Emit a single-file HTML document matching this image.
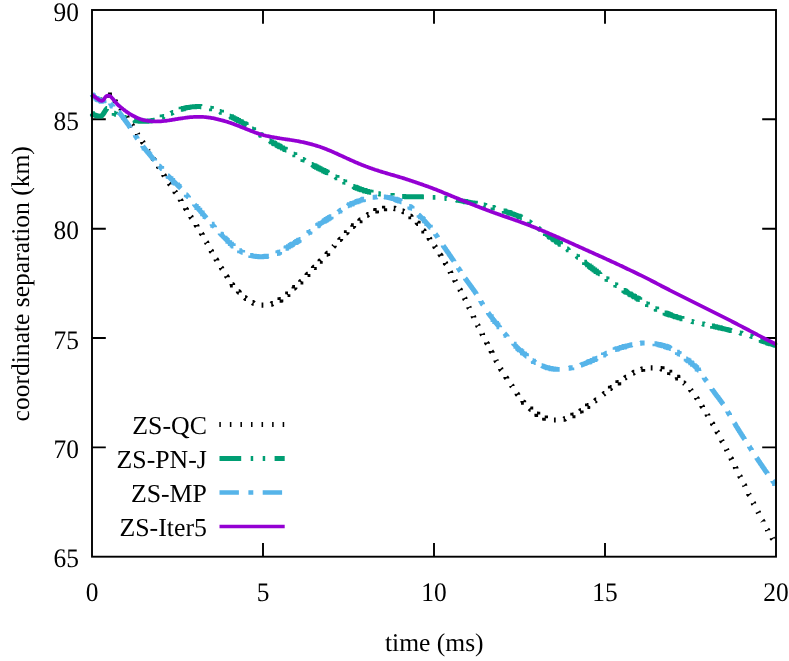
<!DOCTYPE html>
<html><head><meta charset="utf-8"><title>coordinate separation</title>
<style>html,body{margin:0;padding:0;background:#fff;}body{width:789px;height:661px;overflow:hidden;}svg{display:block;will-change:transform;}text{font-family:"Liberation Serif",serif;font-size:25.55px;fill:#000;text-rendering:geometricPrecision;}text.t{font-size:26.8px;}text.k{font-size:25.8px;}</style>
</head><body>
<svg width="789" height="661" viewBox="0 0 789 661">
<rect width="789" height="661" fill="#fff"/>
<g stroke="#000" stroke-width="1.9" fill="none" stroke-linecap="butt">
<path d="M263.0,556.7 V542.9 M263.0,10.0 V23.8"/>
<path d="M434.0,556.7 V542.9 M434.0,10.0 V23.8"/>
<path d="M605.0,556.7 V542.9 M605.0,10.0 V23.8"/>
<path d="M92.0,447.4 H105.8 M776.0,447.4 H762.2"/>
<path d="M92.0,338.0 H105.8 M776.0,338.0 H762.2"/>
<path d="M92.0,228.7 H105.8 M776.0,228.7 H762.2"/>
<path d="M92.0,119.3 H105.8 M776.0,119.3 H762.2"/>
</g>
<g text-anchor="end">
<text x="78.9" y="567.3" class="t" textLength="25.4" lengthAdjust="spacingAndGlyphs">65</text>
<text x="78.9" y="458.0" class="t" textLength="25.4" lengthAdjust="spacingAndGlyphs">70</text>
<text x="78.9" y="348.6" class="t" textLength="25.4" lengthAdjust="spacingAndGlyphs">75</text>
<text x="78.9" y="239.3" class="t" textLength="25.4" lengthAdjust="spacingAndGlyphs">80</text>
<text x="78.9" y="129.9" class="t" textLength="25.4" lengthAdjust="spacingAndGlyphs">85</text>
<text x="78.9" y="20.6" class="t" textLength="25.4" lengthAdjust="spacingAndGlyphs">90</text>
</g>
<g text-anchor="middle">
<text x="92.0" y="601.4" class="t" textLength="12.7" lengthAdjust="spacingAndGlyphs">0</text>
<text x="263.0" y="601.4" class="t" textLength="12.7" lengthAdjust="spacingAndGlyphs">5</text>
<text x="434.0" y="601.4" class="t" textLength="25.4" lengthAdjust="spacingAndGlyphs">10</text>
<text x="605.0" y="601.4" class="t" textLength="25.4" lengthAdjust="spacingAndGlyphs">15</text>
<text x="776.0" y="601.4" class="t" textLength="25.4" lengthAdjust="spacingAndGlyphs">20</text>
<text x="434.3" y="651.4">time (ms)</text>
<text transform="translate(29.3,283.8) rotate(-90)">coordinate separation (km)</text>
</g>
<g>
<g transform="scale(0.22)" fill="none" stroke-linejoin="miter" stroke-miterlimit="10">
<path d="M422 432l1 1 1 1 1 1 1 1 1 0 M457 455l1 0 1 0 1 1 1 0 1-1 1 0 1 0 M491 432l1 0 1 0 1 0 1 0 1 0 1 0 0 1 1 0 M523 458l1 1 0 1 1 1 1 1 1 1 M549 494l1 1 1 1 0 1 1 1 1 1 0 1 M575 530l0 1 1 1 1 1 0 1 1 1 1 1 M599 568l1 1 1 1 0 1 1 2 1 1 M624 607l1 2 0 1 1 1 1 1 M648 645l1 1 0 1 1 1 1 1 1 1 M673 683l0 1 1 1 1 1 1 1 M697 720l0 2 1 1 1 1 1 1 0 1 M721 758l0 1 1 1 1 1 1 2 0 1 M745 795l0 1 1 1 1 1 1 2 0 1 M769 833l1 1 1 1 1 1 0 1 1 1 1 1 M795 871l1 1 0 1 1 1 1 1 1 1 M820 908l0 1 1 1 1 1 1 2 0 1 M844 947l0 1 1 1 1 2 1 1 0 1 M867 985l1 1 0 1 1 2 1 1 1 1 M892 1023l0 1 1 2 1 1 1 1 0 1 M916 1061l0 1 1 1 1 2 1 1 0 1 M938 1100l1 1 1 2 0 1 1 1 M959 1139l1 1 1 1 0 2 1 1 1 1 M982 1178l1 1 0 1 1 1 1 1 0 2 M1005 1216l1 1 1 1 0 1 1 2 1 1 M1029 1254l1 1 1 1 0 1 1 1 1 1 0 1 M1055 1291l0 1 1 1 1 1 0 1 1 0 1 1 M1084 1325l0 1 1 1 1 0 1 1 0 1 1 1 M1113 1353l1 1 1 0 1 1 1 1 1 0 1 1 M1148 1376l1 0 1 1 1 0 1 1 1 0 1 1 M1189 1387l1 0 1 0 1 0 1 0 1 0 1 0 1 0 1 0 M1233 1382l1 0 1-1 1 0 1 0 1-1 1 0 1 0 M1271 1364l1 0 1 0 0-1 1 0 1-1 1 0 0-1 M1305 1340l1-1 1-1 1 0 0-1 1 0 1-1 M1337 1311l0-1 1-1 1 0 1-1 0-1 1 0 M1365 1282l1-1 1 0 0-1 1-1 1-1 1-1 M1396 1250l0-1 1-1 1-1 1 0 0-1 1-1 M1425 1218l0-1 1-1 1-1 1 0 0-1 M1454 1187l1 0 0-1 1-1 1-1 1-1 1-1 M1485 1155l1 0 1-1 0-1 1-1 1 0 0-1 1-1 M1515 1122l1-1 1-1 1-1 1-1 0-1 M1544 1091l1-1 0-1 1-1 1 0 1-1 0-1 M1574 1060l1-1 0-1 1 0 1-1 0-1 1-1 M1604 1031l0-1 1-1 1 0 1-1 0-1 1 0 1-1 M1635 1003l1 0 0-1 1-1 1 0 1-1 1-1 M1669 978l1 0 1-1 1 0 1-1 1-1 1 0 M1706 959l1 0 1 0 0-1 1 0 1 0 1 0 0-1 1 0 M1745 948l1 0 1 0 1 0 0-1 1 0 1 0 1 0 M1790 947l1 0 1 0 1 0 1 0 1 1 1 0 1 0 M1830 960l1 0 1 1 1 0 1 1 1 0 1 0 M1865 982l1 1 1 0 1 1 0 1 1 0 1 1 M1896 1011l1 1 0 1 1 1 1 1 1 0 0 1 M1924 1046l1 1 1 1 1 1 0 1 1 0 1 1 M1951 1082l0 2 1 1 1 1 0 1 1 1 M1976 1119l1 1 0 2 1 1 1 1 1 1 M2000 1156l1 1 0 1 1 1 1 2 1 1 0 1 M2024 1195l1 1 0 2 1 1 1 1 1 1 M2046 1234l1 2 0 1 1 1 1 2 0 1 M2068 1274l0 2 1 1 1 1 1 2 M2090 1315l1 1 1 1 0 2 1 1 M2111 1354l1 2 1 1 0 2 1 1 M2131 1395l1 2 0 2 1 1 M2151 1437l0 1 1 2 1 1 0 2 M2171 1478l1 1 0 2 1 1 M2191 1517l0 1 1 2 1 1 0 2 M2212 1557l0 1 1 1 1 2 1 1 0 1 M2233 1596l0 1 1 1 1 2 1 1 0 2 M2254 1637l1 2 0 1 1 2 1 1 M2275 1676l1 1 0 1 1 2 1 1 1 1 M2300 1714l0 1 1 1 1 2 1 1 0 1 M2325 1752l1 1 1 1 0 1 1 1 M2350 1789l1 1 0 1 1 1 1 1 0 1 1 1 M2377 1823l0 1 1 1 1 1 1 1 0 1 1 0 M2407 1856l1 1 1 1 1 1 1 1 1 0 0 1 M2441 1881l0 1 1 0 1 1 1 0 0 1 1 0 1 0 M2476 1899l0 1 1 0 1 0 1 0 0 1 1 0 1 0 1 1 M2518 1909l1 0 1 0 1 0 1 0 1 0 1 0 1 0 1 0 M2562 1905l1 0 1 0 1 0 1-1 1 0 1 0 1-1 M2601 1890l1-1 1 0 1 0 0-1 1 0 1-1 1 0 M2636 1870l1-1 1 0 1-1 1-1 1 0 0-1 M2670 1847l1 0 0-1 1 0 1-1 1-1 1 0 1-1 M2704 1823l1-1 1-1 1 0 1-1 1-1 1 0 M2742 1793l1-1 1-1 1-1 1-1 1 0 1-1 M2775 1766l0-1 1 0 1-1 1-1 1-1 1 0 M2807 1742l1-1 1 0 0-1 1 0 1-1 1 0 0-1 M2840 1719l1-1 1-1 1 0 1-1 1-1 1 0 M2877 1696l1-1 1 0 1-1 1 0 1-1 1 0 M2915 1679l1 0 1 0 1-1 1 0 1 0 1 0 0-1 M2958 1672l1 0 1 0 1 0 1 0 1 0 1 0 1 0 1 0 M3003 1676l1 0 1 0 1 1 1 0 1 0 1 0 0 1 M3043 1692l1 0 0 1 1 0 1 1 1 0 1 1 M3077 1714l1 1 1 0 0 1 1 1 1 0 0 1 1 0 M3108 1741l1 0 1 1 1 1 1 1 1 1 M3139 1772l1 1 0 1 1 1 1 1 1 1 M3166 1808l1 1 0 1 1 1 1 1 0 1 M3191 1845l0 1 1 1 1 2 0 1 1 1 M3215 1884l0 2 1 1 1 1 0 1 M3237 1923l1 1 1 1 0 2 1 1 1 1 M3259 1962l1 1 0 1 1 2 1 1 1 1 M3280 2001l1 2 0 1 1 1 1 2 1 1 M3302 2042l1 2 0 1 1 1 1 2 M3322 2082l1 1 1 1 0 2 1 1 1 2 M3343 2123l0 2 1 1 1 2 0 1 M3363 2164l1 1 0 2 1 1 1 1 M3383 2204l1 1 1 2 0 1 1 2 M3404 2245l0 2 1 1 1 2 1 1 M3424 2286l1 1 0 2 1 1 M3445 2326l1 2 1 1 0 1 1 2 M3465 2366l1 1 1 1 1 2 0 1 M3487 2407l1 1 1 1 0 1 1 2 M3510 2445l1 2 0 1 1 1 1 1" stroke="#000" stroke-width="23.6"/>
<path d="M419 517l1 0 0 1 1 0 1 0 1 1 1 1 1 0 1 1 1 0 1 1 1 0 1 1 1 0 1 1 1 0 1 0 1 1 1 0 1 0 1 1 1 0 1 0 1 0 1 1 1 0 1 0 1 0 1 0 1 0 1 1 1 0 1 0 1 0 1 0 1 0 1 0 1 0 1 0 1 0 1 0 1 0 1 0 1-1 1 0 1-1 1-1 1-1 0-1 1-1 1-1 1-1 0-1 1-1 1-1 1-1 0-1 1-1 1-1 0-2 1-1 1-1 1-1 0-1 1-1 1-2 1-1 0-1 1-1 1-1 0-1 1-1 1-1 1-1 0-1 1-1 1-1 1 0 M609 546l1 1 1 0 1 0 1 0 1 0 1 0 0 1 1 0 1 0 1 0 1 0 1 0 0 1 1 0 1 0 1 0 1 0 1 0 1 1 1 0 1 0 1 0 1 0 1 0 1 0 1 1 1 0 1 0 1 0 1 0 1 0 1 0 1 0 1 0 1 0 1 0 1 0 1 0 1 0 1 0 1 0 1 0 1 0 1 0 1 0 1 0 1 0 1 0 1 0 1 0 1 0 1 0 1 0 1 0 1 0 1 0 1 0 1 0 1 0 1 0 1 0 1 0 1 0 1 0 1 0 1 0 1-1 1 0 1 0 1 0 1 0 1 0 1 0 1 0 1 0 1 0 1 0 1 0 1-1 1 0 1 0 1 0 1 0 1 0 1-1 1 0 1 0 1 0 1-1 1 0 1 0 1 0 1-1 1 0 1 0 1 0 0-1 M822 497l1 0 0-1 1 0 1 0 1-1 1 0 1 0 1 0 1-1 1 0 1 0 1 0 0-1 1 0 1 0 1 0 1-1 1 0 1 0 1 0 1-1 1 0 1 0 1 0 1-1 1 0 1 0 1 0 1 0 1-1 1 0 1 0 1 0 1 0 1 0 0-1 1 0 1 0 1 0 1 0 1 0 1 0 1-1 1 0 1 0 1 0 1 0 1 0 1 0 1-1 1 0 1 0 1 0 1 0 1 0 1 0 1 0 1 0 1-1 1 0 1 0 1 0 1 0 1 0 1 0 1 0 1 0 1 0 1 0 1 0 1 0 1-1 1 0 1 0 1 0 1 0 1 0 1 0 1 0 1 0 1 0 1 0 1 0 1 0 1 0 1 0 1 0 1 0 1 0 1 0 1 0 1 0 1 0 1 0 1 1 1 0 M1044 528l1 0 1 1 1 0 1 1 1 0 1 1 1 0 1 0 0 1 1 0 1 1 1 0 1 1 1 0 1 1 1 0 1 0 0 1 1 0 1 0 1 1 1 1 1 0 1 1 1 0 1 0 0 1 1 0 1 0 1 1 1 0 1 1 1 1 1 0 1 0 0 1 1 0 1 0 1 1 1 1 1 0 1 1 1 0 1 0 0 1 1 0 1 1 1 0 1 1 1 0 1 1 1 0 1 1 1 0 1 1 1 0 0 1 1 0 1 0 0 1 1 0 1 1 1 0 1 1 1 0 1 1 1 1 1 0 1 1 1 0 1 1 1 1 1 0 1 0 0 1 1 0 1 1 1 1 1 0 1 0 0 1 1 0 1 1 1 0 0 1 1 0 1 1 1 1 M1225 640l1 0 1 1 1 0 1 1 1 0 1 1 1 1 1 0 0 1 1 0 1 0 1 1 1 1 1 0 1 1 1 0 1 1 1 1 1 0 1 0 0 1 1 0 1 1 1 0 0 1 1 0 1 0 0 1 1 0 1 1 1 0 1 1 1 0 1 1 1 0 1 1 1 1 1 0 1 0 0 1 1 0 1 1 1 0 1 1 1 0 0 1 1 0 1 0 1 1 1 0 1 1 1 0 0 1 1 0 1 0 0 1 1 0 1 1 1 0 1 1 1 0 1 1 1 0 1 1 1 0 1 1 1 0 0 1 1 0 1 0 1 1 1 1 1 0 1 1 1 0 1 1 1 0 1 1 1 0 0 1 1 0 1 0 0 1 1 0 1 1 1 0 1 1 1 0 M1417 748l1 0 1 1 1 0 1 1 1 0 1 1 1 0 1 1 1 1 1 0 1 0 0 1 1 0 1 1 1 0 1 1 1 0 0 1 1 0 1 0 1 1 1 0 1 1 1 0 0 1 1 0 1 0 0 1 1 0 1 0 1 1 1 1 1 0 1 0 0 1 1 0 1 0 0 1 1 0 1 1 1 0 1 1 1 0 1 0 0 1 1 0 1 1 1 0 1 1 1 0 1 1 1 0 1 0 0 1 1 0 1 1 1 0 1 1 1 0 1 1 1 0 1 0 0 1 1 0 1 0 0 1 1 0 1 1 1 0 1 1 1 0 1 0 0 1 1 0 1 0 0 1 1 0 1 1 1 0 1 1 1 0 1 0 0 1 1 0 1 1 1 0 1 1 1 0 1 1 M1605 847l1 1 1 0 1 1 1 0 1 0 1 1 1 0 1 1 1 0 1 0 0 1 1 0 1 0 0 1 1 0 1 0 1 0 0 1 1 0 1 0 1 1 1 0 1 0 0 1 1 0 1 0 1 1 1 0 1 0 1 1 1 0 1 0 0 1 1 0 1 0 1 1 1 0 1 0 1 1 1 0 1 0 0 1 1 0 1 0 1 0 0 1 1 0 1 0 1 0 1 1 1 0 1 0 1 1 1 0 1 0 1 1 1 0 1 0 1 0 0 1 1 0 1 0 1 0 0 1 1 0 1 0 1 0 1 1 1 0 1 0 1 0 1 1 1 0 1 0 1 0 0 1 1 0 1 0 1 0 1 1 1 0 1 0 1 0 1 0 0 1 1 0 1 0 1 0 1 1 1 0 1 0 1 0 1 0 0 1 M1828 893l1 0 1 0 1 0 1 0 1 0 1 0 1 0 1 0 1 0 1 0 1 0 1 0 1 0 1 1 1 0 1 0 1 0 1 0 1 0 1 0 1 0 1 0 1 0 1 0 1 0 1 0 1 0 1 0 1 0 1 0 1 0 1 0 1 0 1 0 1 0 1 0 1 0 1 0 1 0 1 0 1 0 1 0 1 0 1 0 1 0 1 0 1 0 1 0 1 0 1 0 1 0 1 0 1 0 1 0 1 0 1 0 1 0 1 0 1 0 1 0 1 0 1 0 1 0 1 0 1 0 1 0 1 0 1 0 1 0 1 0 1 0 1 0 1 0 1 0 1 0 1 0 1 0 1 0 1 0 1 0 1 0 1 0 1 0 1 0 1 0 0 1 1 0 1 0 1 0 1 0 1 0 1 0 1 0 1 0 1 0 1 0 1 0 1 0 1 0 1 0 M2073 909l1 0 1 0 1 0 1 1 1 0 1 0 1 0 1 0 1 1 1 0 1 0 1 0 1 0 1 0 1 1 1 0 1 0 1 0 1 0 1 0 1 1 1 0 1 0 1 0 1 0 1 0 1 1 1 0 1 0 1 0 1 0 1 1 1 0 1 0 1 0 1 0 1 0 1 1 1 0 1 0 1 0 1 0 1 0 0 1 1 0 1 0 1 0 1 0 1 0 1 1 1 0 1 0 1 0 1 0 1 0 1 1 1 0 1 0 1 0 1 0 1 0 1 1 1 0 1 0 1 0 1 0 1 1 1 0 1 0 1 0 1 0 1 0 1 1 1 0 1 0 1 0 1 0 1 0 1 1 1 0 1 0 1 0 1 0 1 1 1 0 1 0 1 0 1 0 1 0 0 1 1 0 1 0 1 0 1 0 1 0 M2289 959l1 0 1 0 1 0 0 1 1 0 1 0 1 0 0 1 1 0 1 0 1 1 1 0 1 0 1 1 1 0 1 0 1 0 1 1 1 0 1 0 1 1 1 0 1 0 1 1 1 0 1 0 0 1 1 0 1 0 1 0 0 1 1 0 1 0 1 0 0 1 1 0 1 0 1 1 1 0 1 0 1 1 1 0 1 0 1 1 1 0 1 0 1 1 1 0 1 0 1 1 1 0 1 0 1 1 1 0 1 0 1 1 1 0 1 1 1 0 1 0 1 1 1 0 1 0 1 1 1 0 1 1 1 0 1 0 1 1 1 0 1 1 1 0 1 1 1 0 1 0 0 1 1 0 1 0 1 1 1 0 1 0 0 1 1 0 1 0 1 1 1 0 1 1 1 0 1 1 1 0 M2478 1061l1 0 0 1 1 0 1 1 1 1 1 0 1 1 1 1 1 0 1 1 1 1 1 1 1 1 1 0 1 1 1 1 1 0 1 1 1 1 1 0 0 1 1 0 1 1 1 0 0 1 1 0 1 1 1 0 0 1 1 0 1 1 1 1 1 0 1 1 1 1 1 0 1 1 1 1 1 0 0 1 1 0 1 1 1 0 0 1 1 0 1 1 1 0 0 1 1 0 1 1 1 1 1 0 1 1 1 1 1 0 1 1 1 1 1 0 0 1 1 0 1 1 1 0 0 1 1 0 1 1 1 0 0 1 1 0 1 1 1 1 1 0 1 1 1 1 1 0 1 1 1 1 1 0 0 1 1 0 1 1 1 0 0 1 1 0 1 1 M2656 1192l1 0 0 1 1 0 1 1 1 1 1 1 1 0 1 1 1 1 1 1 1 1 1 0 1 1 1 1 1 0 1 1 0 1 1 0 1 1 1 1 1 0 1 1 1 1 1 1 1 0 0 1 1 0 1 1 1 1 1 0 1 1 0 1 1 0 1 1 1 0 0 1 1 0 1 1 1 1 1 0 1 1 0 1 1 0 1 1 1 0 0 1 1 0 1 1 1 1 1 0 1 1 0 1 1 0 1 1 1 0 0 1 1 0 1 1 1 1 1 0 1 1 0 1 1 0 1 1 1 0 0 1 1 0 1 1 1 1 1 0 1 1 1 1 1 1 1 0 0 1 1 0 1 1 1 1 1 0 1 1 1 1 1 0 1 1 0 1 M2834 1319l1 1 1 0 0 1 1 0 1 1 1 0 1 1 1 0 0 1 1 0 1 1 1 0 0 1 1 0 1 0 1 1 1 1 1 0 0 1 1 0 1 0 1 1 1 1 1 0 1 1 1 0 1 1 1 1 1 0 1 1 1 0 1 1 1 0 0 1 1 0 1 0 0 1 1 0 1 1 1 0 0 1 1 0 1 0 1 1 1 1 1 0 1 1 1 0 1 1 1 0 1 1 1 0 0 1 1 0 1 1 1 0 1 1 1 0 0 1 1 0 1 0 1 1 1 1 1 0 1 1 1 0 1 1 1 1 1 0 1 0 0 1 1 0 1 1 1 1 1 0 1 0 0 1 1 0 1 1 1 0 0 1 1 0 1 1 1 0 1 1 1 0 0 1 M3021 1422l1 0 1 0 0 1 1 0 1 0 1 1 1 0 1 0 0 1 1 0 1 0 1 0 0 1 1 0 1 0 0 1 1 0 1 0 1 0 0 1 1 0 1 0 1 0 0 1 1 0 1 0 0 1 1 0 1 0 1 0 0 1 1 0 1 0 1 0 0 1 1 0 1 0 1 1 1 0 1 0 1 1 1 0 1 0 1 1 1 0 1 0 1 1 1 0 1 0 1 1 1 0 1 0 1 1 1 0 1 0 1 0 0 1 1 0 1 0 1 0 0 1 1 0 1 0 1 1 1 0 1 0 1 1 1 0 1 0 1 0 1 1 1 0 1 0 1 1 1 0 1 0 1 0 0 1 1 0 1 0 1 1 1 0 1 0 1 0 1 1 1 0 1 0 1 1 1 0 1 0 1 0 0 1 1 0 1 0 M3236 1482l1 0 1 0 1 0 0 1 1 0 1 0 1 0 1 0 1 1 1 0 1 0 1 0 1 1 1 0 1 0 1 0 1 0 0 1 1 0 1 0 1 0 1 1 1 0 1 0 1 0 1 0 0 1 1 0 1 0 1 0 1 0 1 1 1 0 1 0 1 0 1 1 1 0 1 0 1 0 1 0 0 1 1 0 1 0 1 0 1 0 1 1 1 0 1 0 1 0 1 1 1 0 1 0 1 0 1 1 1 0 1 0 1 0 1 1 1 0 1 0 1 0 1 0 1 1 1 0 1 0 1 0 1 1 1 0 1 0 1 0 1 1 1 0 1 0 1 0 1 1 1 0 1 0 1 0 1 1 1 0 1 0 1 0 1 1 1 0 1 0 1 0 1 1 1 0 1 0 1 0 1 1 1 0 1 0 1 0 M3456 1545l1 0 1 1 1 0 1 0 0 1 1 0 1 0 1 0 0 1 1 0 1 0 0 1 1 0 1 0 1 0 0 1 1 0 1 0 1 1 1 0 1 0 0 1 1 0 1 0 1 1 1 0 1 0 1 1 1 0 1 0 0 1 1 0 1 0 1 1 1 0 1 0 1 1 1 0 1 0 0 1 1 0 1 0 1 0 0 1 1 0 1 0 1 0 0 1 1 0 1 0 0 1 1 0 1 0 1 0 0 1 1 0 1 0 1 0 0 1 1 0 1 0 1 1 1 0 1 0 1 1 1 0 1 0 1 1 1 0 1 0 1 1 1 0 1 0 1 1 1 0 1 0 1 1 1 0 1 0 1 1 1 0 1 0 1 1 M519 514l0 1 1 0 1 1 1 1 1 0 1 1 1 1 1 0 1 0 0 1 M564 533l0 1 1 0 1 0 1 0 1 1 1 0 1 0 1 1 1 0 1 0 M737 533l0-1 1 0 1 0 1-1 1 0 1 0 1-1 1 0 1-1 1 0 M777 515l1 0 1-1 1 0 1 0 1-1 1 0 1-1 1 0 1-1 1 0 M956 492l1 0 1 1 1 0 1 0 1 0 0 1 1 0 1 0 1 0 1 1 M999 507l1 0 1 1 1 0 1 1 1 0 1 1 1 0 1 0 0 1 1 0 M1146 586l1 0 1 1 1 1 1 0 1 1 1 1 1 0 0 1 1 0 1 1 M1182 610l1 1 1 1 1 0 0 1 1 0 1 1 1 0 0 1 1 0 1 1 M1335 701l1 0 1 1 1 0 1 1 1 0 0 1 1 0 1 0 1 1 1 1 M1377 724l0 1 1 0 1 1 1 0 1 1 1 0 1 1 1 0 1 1 1 1 M1524 803l1 1 1 0 1 1 1 0 1 1 1 1 1 0 1 0 0 1 1 0 M1561 825l1 0 1 0 1 1 1 1 1 0 1 0 0 1 1 0 1 1 1 0 M1720 881l1 0 1 0 1 0 1 0 1 1 1 0 1 0 1 0 1 0 1 0 1 0 M1774 887l1 1 1 0 1 0 1 0 1 0 1 0 1 0 1 0 1 0 0 1 1 0 M1967 897l1 0 1 0 1 0 1 0 1 0 1 0 1 0 1 0 1 0 1 0 1 0 1 0 M2020 901l1 0 1 0 1 0 1 0 1 0 1 0 1 0 1 1 1 0 1 0 M2199 932l1 0 1 1 1 0 1 0 1 0 1 1 1 0 1 0 1 0 1 1 M2239 943l1 0 1 0 0 1 1 0 1 0 1 0 1 1 1 0 1 0 1 1 1 0 M2407 1008l0 1 1 0 1 1 1 1 1 0 1 1 1 1 1 0 1 1 M2446 1036l1 1 1 1 1 1 1 1 1 0 1 1 1 1 1 0 1 1 M2577 1131l1 1 1 0 1 1 1 1 1 0 1 1 0 1 1 0 1 1 1 1 M2620 1164l1 1 1 0 1 1 1 1 1 0 0 1 1 1 1 0 1 1 M2756 1267l1 0 1 1 1 0 0 1 1 0 1 1 1 1 1 0 1 1 M2796 1294l1 0 1 1 1 0 0 1 1 0 1 1 1 1 1 0 1 1 M2938 1381l1 0 1 1 1 1 1 0 1 0 0 1 1 0 1 1 1 1 1 0 M2978 1402l1 1 1 0 1 1 1 0 1 0 0 1 1 0 1 0 0 1 1 0 1 0 M3144 1461l1 0 1 1 1 0 1 0 1 0 1 0 1 1 1 0 1 0 1 0 M3192 1472l1 0 1 0 1 0 1 1 1 0 1 0 1 0 1 1 1 0 1 0 M3363 1513l1 0 1 1 1 0 1 0 1 0 1 1 1 0 1 0 1 0 1 1 M3411 1527l1 0 1 1 1 0 1 0 1 1 1 0 1 0 1 1 1 0 1 1" stroke="#009e73" stroke-width="22.3"/>
<path d="M419 432l1 0 0 1 1 1 1 0 1 1 1 1 1 0 0 1 1 0 1 1 1 1 1 1 1 0 1 1 1 1 1 1 1 1 1 0 1 1 0 1 1 0 1 1 1 0 0 1 1 1 1 0 0 1 1 0 1 1 1 0 0 1 1 0 1 1 1 0 0 1 1 0 1 1 1 1 1 0 1 1 1 1 1 0 1 1 1 0 1 1 1 0 1 0 1 0 0 1 1 0 1 0 1-1 1 0 1 0 1 0 1-1 1 0 1-1 1 0 1 0 0-1 1 0 1 0 0-1 1 0 1 0 1-1 1 0 M541 511l1 0 1 1 0 1 1 1 1 1 0 1 1 1 1 0 1 1 0 1 1 1 1 1 1 1 0 1 1 1 1 1 0 1 1 1 1 1 1 1 0 1 1 1 1 1 1 1 0 1 1 1 1 1 0 1 1 1 1 1 1 1 0 1 1 1 1 1 1 1 0 1 1 1 1 1 0 1 1 1 1 1 1 1 0 1 1 1 1 1 1 1 0 1 1 1 1 1 0 1 1 1 1 1 1 1 0 1 1 1 1 1 1 1 0 1 1 1 1 1 0 1 1 2 1 1 1 1 0 1 1 1 1 1 1 1 0 1 1 1 M649 664l0 1 1 1 1 1 1 1 0 1 1 1 1 1 1 1 0 1 1 0 1 1 0 1 1 1 1 1 1 1 0 1 1 1 1 1 1 1 1 1 1 1 0 1 1 1 1 1 1 1 0 1 1 1 1 0 1 1 0 1 1 1 1 1 0 1 1 1 1 1 1 0 0 1 1 1 1 1 1 1 0 1 1 1 1 0 0 1 1 1 1 1 1 1 0 1 1 1 1 0 1 1 0 1 1 1 1 1 0 1 1 1 1 0 1 1 0 1 1 1 1 1 1 1 1 1 1 1 0 1 1 1 1 1 1 1 1 1 1 1 1 1 0 1 M764 799l0 1 1 0 1 1 1 1 0 1 1 0 1 1 0 1 1 1 1 0 1 1 0 1 1 1 1 0 1 1 0 1 1 1 1 0 0 1 1 1 1 0 1 1 0 1 1 1 1 0 1 1 0 1 1 1 1 0 0 1 1 1 1 0 1 1 0 1 1 0 1 1 1 1 0 1 1 0 1 1 0 1 1 0 1 1 1 1 0 1 1 0 1 1 1 1 1 1 1 1 1 1 1 1 1 1 1 1 1 1 1 0 0 1 1 1 1 1 1 1 1 1 1 0 0 1 1 1 1 1 1 0 0 1 1 1 1 1 1 1 1 1 1 1 1 1 1 1 M884 929l0 1 1 1 1 1 1 1 1 1 1 1 0 1 1 1 1 1 1 0 0 1 1 1 1 1 1 1 0 1 1 0 1 1 0 1 1 1 1 1 1 0 0 1 1 1 1 1 1 1 1 1 1 1 0 1 1 1 1 1 1 0 0 1 1 1 1 1 1 1 1 1 1 1 0 1 1 1 1 0 1 1 0 1 1 1 1 1 1 0 0 1 1 1 1 1 0 1 1 0 1 1 1 1 0 1 1 1 1 0 1 1 0 1 1 1 1 1 1 1 1 1 1 1 0 1 1 0 1 1 1 1 0 1 1 1 1 1 1 1 1 1 M1001 1061l0 1 1 1 1 1 1 0 0 1 1 1 1 1 1 0 0 1 1 1 1 1 1 1 1 1 1 1 1 1 1 1 1 1 1 1 1 1 1 1 1 1 1 1 1 1 1 1 1 0 0 1 1 1 1 1 1 1 1 1 1 0 0 1 1 1 1 0 1 1 0 1 1 1 1 0 0 1 1 1 1 0 1 1 0 1 1 0 1 1 1 1 1 1 1 1 1 1 1 1 1 0 0 1 1 1 1 0 1 1 0 1 1 0 1 1 1 1 1 1 1 0 0 1 1 1 1 0 1 1 0 1 1 0 1 1 1 1 1 1 1 0 0 1 1 0 M1136 1160l1 1 1 0 1 0 1 0 0 1 1 0 1 0 1 0 1 0 1 1 1 0 1 0 1 0 1 0 1 1 1 0 1 0 1 0 1 0 1 0 1 1 1 0 1 0 1 0 1 0 1 0 1 0 1 1 1 0 1 0 1 0 1 0 1 0 1 0 1 0 1 0 1 0 1 0 1 0 1 1 1 0 1 0 1 0 1 0 1 0 1 0 1 0 1 0 1 0 1 0 1 0 1 0 1 0 1 0 1 0 1 0 1 0 1 0 1 0 1 0 1 0 1-1 1 0 1 0 1 0 1 0 1 0 1 0 1 0 1 0 1 0 1 0 1 0 1 0 0-1 1 0 1 0 1 0 1 0 1 0 1 0 1 0 1-1 1 0 1 0 1 0 1 0 1 0 M1298 1129l1 0 1 0 0-1 1 0 1-1 1 0 0-1 1 0 1-1 1-1 1 0 1-1 1-1 1 0 1 0 0-1 1 0 1-1 1-1 1 0 1-1 1 0 1-1 1 0 0-1 1 0 1-1 1-1 1 0 1 0 0-1 1 0 1-1 1 0 0-1 1 0 1 0 0-1 1 0 1-1 1 0 1-1 1 0 1-1 1-1 1 0 1-1 1 0 1-1 1-1 1 0 1 0 0-1 1 0 1-1 1-1 1 0 1 0 0-1 1 0 1-1 1 0 0-1 1 0 1-1 1 0 1-1 1 0 0-1 1 0 1-1 1 0 0-1 1 0 1-1 1-1 1 0 1-1 1-1 1 0 M1441 1028l1-1 1-1 1 0 0-1 1 0 1-1 1 0 0-1 1 0 1-1 1-1 1 0 1-1 1-1 1 0 1-1 0-1 1 0 1-1 1-1 1 0 1-1 1-1 1 0 1-1 1 0 1-1 1-1 1 0 1-1 1-1 1 0 1-1 1-1 1 0 0-1 1 0 1-1 1 0 0-1 1 0 1 0 1-1 1-1 1 0 0-1 1 0 1-1 1 0 0-1 1 0 1 0 1-1 1-1 1 0 0-1 1 0 1-1 1 0 0-1 1 0 1 0 1-1 1-1 1 0 0-1 1 0 1-1 1 0 0-1 1 0 1 0 1-1 1-1 1 0 0-1 1 0 1-1 M1580 936l1-1 1 0 1-1 1 0 1-1 1-1 1 0 1 0 0-1 1 0 1 0 1-1 1 0 1-1 1 0 1-1 1 0 1-1 1 0 1 0 0-1 1 0 1 0 0-1 1 0 1 0 1-1 1 0 1-1 1 0 1-1 1 0 1 0 1-1 1 0 1-1 1 0 1 0 1-1 1 0 1-1 1 0 1 0 1-1 1 0 1 0 0-1 1 0 1 0 1-1 1 0 1 0 1-1 1 0 1 0 0-1 1 0 1 0 1-1 1 0 1 0 1-1 1 0 1 0 1-1 1 0 1 0 1-1 1 0 1 0 1 0 1-1 1 0 1 0 0-1 1 0 1 0 1 0 0-1 1 0 1 0 1 0 M1745 895l1 0 1 0 1 0 1 0 1 0 1 1 1 0 1 0 1 0 1 0 1 0 1 0 1 0 1 1 1 0 1 0 1 0 1 0 1 0 1 1 1 0 1 0 1 0 1 0 1 1 1 0 1 0 1 0 1 0 1 1 1 0 1 0 1 0 1 1 1 0 1 0 1 0 1 1 1 0 1 0 1 1 1 0 1 0 1 0 1 1 1 0 1 0 1 1 1 0 1 0 1 1 1 0 1 0 1 0 0 1 1 0 1 0 1 1 1 0 1 0 0 1 1 0 1 0 1 0 0 1 1 0 1 0 1 1 1 0 1 0 0 1 1 0 1 0 1 0 0 1 1 0 1 0 0 1 1 0 1 0 1 1 1 0 1 1 1 0 1 1 1 0 M1902 975l1 1 1 1 1 1 0 1 1 0 1 1 1 1 1 1 1 1 1 1 0 1 1 0 1 1 0 1 1 1 1 0 1 1 0 1 1 1 1 0 1 1 0 1 1 1 1 0 0 1 1 1 1 1 1 0 0 1 1 1 1 1 1 1 1 1 1 1 0 1 1 0 1 1 1 1 0 1 1 1 1 0 1 1 0 1 1 1 1 1 1 1 1 1 1 1 0 1 1 0 1 1 1 1 0 1 1 1 1 1 1 1 1 1 1 1 0 1 1 1 1 0 1 1 0 1 1 1 1 1 0 1 1 1 1 1 1 0 0 1 1 1 1 1 M2015 1116l0 1 1 1 1 1 0 2 1 1 1 1 1 1 0 1 1 1 1 1 1 1 0 1 1 1 1 1 0 1 1 1 1 1 1 2 0 1 1 1 1 1 1 1 0 1 1 1 1 1 0 1 1 1 1 1 1 1 0 1 1 1 1 1 1 1 0 1 1 2 1 1 0 1 1 1 1 1 1 1 0 1 1 1 1 1 1 1 0 1 1 1 1 1 0 1 1 1 1 1 1 1 0 2 1 1 1 1 1 1 0 1 1 1 1 1 0 1 1 1 1 1 1 1 0 1 1 1 1 2 1 1 0 1 M2114 1265l1 1 1 1 0 1 1 1 1 1 1 1 0 1 1 1 1 1 0 1 1 1 1 1 1 1 0 1 1 1 1 1 1 1 0 1 1 1 1 1 0 1 1 1 1 1 1 1 0 1 1 1 1 1 1 1 0 1 1 1 1 1 0 1 1 1 1 1 1 1 0 1 1 1 1 1 1 1 0 1 1 1 1 1 0 1 1 1 1 1 1 1 0 1 1 1 1 1 1 1 0 1 1 1 1 1 0 1 1 1 1 1 1 1 0 1 1 1 1 1 1 1 0 1 1 1 1 1 0 2 1 1 1 1 1 1 0 1 1 1 M2219 1422l1 1 0 1 1 1 1 1 1 1 0 1 1 1 1 1 0 1 1 1 1 1 1 1 0 1 1 1 1 1 1 1 0 1 1 1 1 0 0 1 1 1 1 1 1 1 0 1 1 1 1 1 1 1 0 1 1 1 1 1 0 1 1 0 1 1 1 1 0 1 1 1 1 1 1 1 0 1 1 1 1 1 0 1 1 0 1 1 1 1 0 1 1 1 1 1 1 1 0 1 1 1 1 0 0 1 1 1 1 1 1 1 0 1 1 1 1 1 1 0 0 1 1 1 1 1 0 1 1 1 1 1 1 1 0 1 1 0 1 1 1 1 0 1 M2334 1561l1 1 0 1 1 1 1 0 0 1 1 1 1 1 1 1 1 1 1 1 1 1 1 1 1 1 0 1 1 0 1 1 1 1 1 1 1 1 1 1 1 1 1 1 0 1 1 0 1 1 1 1 0 1 1 0 1 1 1 1 1 1 1 1 0 1 1 0 1 1 1 1 1 1 1 1 1 0 0 1 1 1 1 1 1 1 1 1 1 0 0 1 1 1 1 0 1 1 0 1 1 0 1 1 0 1 1 0 1 1 1 1 1 1 1 1 1 0 0 1 1 1 1 0 0 1 1 1 1 0 1 1 1 1 1 1 1 0 0 1 1 1 1 0 0 1 M2462 1662l1 0 1 1 1 0 1 0 1 1 1 0 1 1 1 0 1 0 1 1 1 0 1 1 1 0 1 0 1 1 1 0 1 0 1 1 1 0 1 0 1 1 1 0 1 0 1 0 1 1 1 0 1 0 0 1 1 0 1 0 1 0 1 1 1 0 1 0 1 0 1 1 1 0 1 0 1 0 1 1 1 0 1 0 1 0 1 0 0 1 1 0 1 0 1 0 1 0 1 0 1 1 1 0 1 0 1 0 1 0 1 0 0 1 1 0 1 0 1 0 1 0 1 0 1 0 1 0 1 0 0 1 1 0 1 0 1 0 1 0 1 0 1 0 1 0 1 0 1 0 1 0 1 0 1 0 1 0 1 0 1 0 1 0 1 0 1 0 1 0 1 0 M2640 1660l1-1 1 0 1 0 1-1 1 0 1 0 1-1 1 0 1-1 1 0 1 0 1-1 1 0 1 0 1-1 1 0 1-1 1 0 1 0 1-1 1 0 1-1 1 0 1 0 1-1 1 0 1-1 1 0 1-1 1 0 1 0 1-1 1 0 1-1 1 0 1 0 0-1 1 0 1 0 1-1 1 0 1 0 0-1 1 0 1 0 1-1 1 0 1-1 1 0 1-1 1 0 1-1 1 0 1 0 0-1 1 0 1 0 1-1 1 0 1-1 1 0 1-1 1 0 1-1 1 0 1 0 0-1 1 0 1 0 0-1 1 0 1 0 1-1 1 0 1-1 1 0 1-1 1 0 1-1 1 0 M2796 1590l0-1 1 0 1 0 1-1 1 0 1 0 0-1 1 0 1 0 1 0 0-1 1 0 1 0 1 0 0-1 1 0 1 0 1-1 1 0 1 0 1-1 1 0 1 0 1-1 1 0 1 0 1 0 1-1 1 0 1 0 1-1 1 0 1 0 0-1 1 0 1 0 1 0 1-1 1 0 1 0 1 0 1-1 1 0 1 0 1 0 0-1 1 0 1 0 1 0 0-1 1 0 1 0 1 0 1-1 1 0 1 0 1 0 1-1 1 0 1 0 1 0 1-1 1 0 1 0 1 0 1-1 1 0 1 0 1-1 1 0 1 0 1 0 1 0 1-1 1 0 1 0 1-1 1 0 1 0 1 0 1 0 1-1 1 0 1 0 1 0 M2975 1562l1 0 1 0 0 1 1 0 1 0 1 0 1 0 1 0 1 1 1 0 1 0 1 0 1 0 1 1 1 0 1 0 1 0 1 1 1 0 1 0 1 0 1 0 0 1 1 0 1 0 1 0 1 0 1 1 1 0 1 0 1 0 0 1 1 0 1 0 1 0 1 0 1 1 1 0 1 0 1 0 0 1 1 0 1 0 1 0 0 1 1 0 1 0 1 0 1 1 1 0 1 0 1 1 1 0 1 0 1 0 0 1 1 0 1 0 1 0 0 1 1 0 1 0 1 0 0 1 1 0 1 0 0 1 1 0 1 0 1 0 0 1 1 0 1 0 1 0 0 1 1 0 1 0 0 1 1 0 1 0 1 1 1 0 1 1 1 0 1 1 1 0 1 1 M3119 1631l0 1 1 0 1 1 1 1 1 0 1 1 0 1 1 0 1 1 1 0 0 1 1 0 1 1 0 1 1 0 1 1 1 0 0 1 1 1 1 0 1 1 1 1 1 1 1 1 1 0 1 1 0 1 1 0 1 1 1 0 0 1 1 1 1 0 0 1 1 1 1 0 1 1 0 1 1 0 1 1 1 1 1 1 1 1 1 1 1 1 1 0 0 1 1 1 1 0 1 1 0 1 1 1 1 0 0 1 1 1 1 1 1 0 0 1 1 1 1 1 1 0 0 1 1 1 1 1 0 1 1 0 1 1 1 1 0 1 1 1 1 1 1 0 0 1 1 1 1 1 0 1 M3236 1768l0 1 1 1 1 1 1 1 0 1 1 1 1 1 0 1 1 1 1 1 1 1 0 1 1 1 1 1 1 1 0 1 1 1 1 1 0 1 1 1 1 1 1 1 0 1 1 1 1 1 1 1 0 1 1 1 1 1 0 1 1 1 1 1 1 1 0 1 1 1 1 0 1 1 0 1 1 1 1 1 0 1 1 1 1 1 1 1 0 1 1 1 1 1 1 1 0 1 1 1 1 1 0 1 1 1 1 1 1 1 0 1 1 1 1 1 1 1 0 1 1 1 1 1 0 1 1 1 1 1 1 1 0 1 1 1 1 2 1 1 M3338 1923l1 1 1 1 0 1 1 2 1 1 1 1 0 1 1 2 1 1 0 1 1 1 1 1 1 2 0 1 1 1 1 1 1 1 0 1 1 2 1 1 0 1 1 1 1 1 1 1 0 2 1 1 1 1 1 1 0 1 1 1 1 2 0 1 1 1 1 1 1 1 0 1 1 1 1 2 1 1 0 1 1 1 1 1 0 1 1 1 1 2 1 1 0 1 1 1 1 1 1 1 0 1 1 1 1 2 0 1 1 1 1 1 1 1 0 1 1 1 1 1 1 2 0 1 1 1 1 1 M3439 2081l1 1 1 1 0 1 1 1 1 1 1 1 0 2 1 1 1 1 1 1 0 1 1 1 1 1 0 1 1 1 1 1 1 1 0 1 1 1 1 1 1 2 0 1 1 1 1 1 0 1 1 1 1 1 1 1 0 1 1 1 1 1 1 1 0 1 1 1 1 2 0 1 1 1 1 1 1 1 0 1 1 1 1 1 1 1 0 1 1 1 1 1 0 1 1 1 1 1 1 2 0 1 1 1 1 1 1 1 0 1 1 1 1 1 0 1 1 1 1 1 1 1 0 1 1 1 1 1 1 1 0 1 1 1 M502 470l1 1 0 1 1 1 1 1 0 1 1 1 1 1 1 1 0 1 1 0 1 1 1 1 0 1 1 0 1 1 0 1 1 1 M615 615l0 1 1 2 1 1 0 1 1 1 1 1 1 1 0 1 1 1 1 1 1 1 0 2 1 1 1 1 M724 755l1 0 1 1 1 1 0 1 1 1 1 1 1 1 1 1 1 1 0 1 1 1 1 1 1 0 0 1 1 1 1 1 M846 884l1 1 0 1 1 0 1 1 0 1 1 1 1 1 1 1 0 1 1 1 1 0 1 1 0 1 1 1 1 1 0 1 M963 1019l1 0 0 1 1 1 1 1 1 1 0 1 1 0 1 1 0 1 1 1 1 1 1 1 1 1 1 1 1 1 0 1 M1087 1138l1 1 1 0 0 1 1 0 1 0 1 1 1 1 1 0 1 1 1 1 1 0 1 1 1 0 1 1 1 0 1 1 1 0 0 1 M1259 1152l1 0 1-1 1 0 1 0 0-1 1 0 1 0 0-1 1 0 1 0 1-1 1-1 1 0 1 0 0-1 1 0 1-1 1 0 1-1 M1399 1062l1-1 1-1 1-1 1 0 1-1 0-1 1 0 1-1 1 0 0-1 1-1 1 0 0-1 1-1 1 0 1-1 1-1 M1537 964l1-1 1 0 1-1 1-1 1 0 1-1 1-1 1 0 0-1 1-1 1 0 1-1 1-1 1 0 1-1 1-1 M1694 897l1 0 1 0 1 0 1 0 1 0 1 0 1 0 1-1 1 0 1 0 1 0 1 0 1 0 1 0 1 0 1 0 1 0 1-1 1 0 1 0 M1860 938l1 0 1 1 1 0 0 1 1 0 1 1 0 1 1 0 1 1 1 0 0 1 1 0 1 1 1 1 1 1 1 0 0 1 1 1 M1979 1064l1 1 0 1 1 1 1 1 1 1 0 1 1 1 1 1 0 1 1 1 1 1 1 1 0 1 1 1 1 2 M2082 1217l1 1 1 1 0 1 1 1 1 1 1 1 0 1 1 1 1 2 0 1 1 1 1 1 1 1 0 1 1 1 M2185 1368l0 1 1 2 1 1 1 1 0 1 1 1 1 2 1 1 0 1 1 1 1 1 0 2 1 1 1 1 M2293 1515l1 1 1 1 1 1 1 1 0 1 1 1 1 1 1 1 0 1 1 0 1 1 1 1 0 1 1 1 1 1 0 1 M2419 1638l1 1 1 1 1 0 1 1 1 1 1 0 0 1 1 0 1 0 1 1 1 1 1 0 1 1 1 1 1 0 1 1 1 0 M2585 1674l1 0 1 0 1 0 1 0 1-1 1 0 1 0 1 0 1 0 1-1 1 0 1 0 1 0 1 0 0-1 1 0 1 0 1 0 1 0 1-1 M2742 1614l1 0 0-1 1 0 1-1 1 0 1-1 1 0 1-1 1 0 1-1 1 0 1-1 1 0 1-1 1 0 1-1 1 0 M2910 1560l1 0 1 0 1 0 1 0 1-1 1 0 1 0 1 0 1 0 1 0 1 0 1 0 1 0 1 0 1 0 1 0 1 0 1 0 1 0 1 0 M3078 1601l1 0 0 1 1 0 1 1 1 1 1 0 1 1 1 1 1 1 1 0 0 1 1 0 1 1 1 1 1 0 1 1 M3201 1717l0 1 1 1 1 1 1 2 0 1 1 1 1 1 1 1 0 1 1 1 1 1 0 1 1 1 1 1 1 1 M3308 1871l0 1 1 1 1 2 1 1 0 1 1 1 1 1 0 2 1 1 1 1 1 1 0 2 1 1 M3406 2030l1 1 0 1 1 1 1 1 0 1 1 2 1 1 1 1 0 1 1 1 1 1 1 1 0 2 1 1 M3512 2185l1 1 0 1 1 1 1 1 1 1 0 1 1 1 1 1 1 1 0 1 1 1 1 1 0 1 1 0 1 1 1 1" stroke="#56b4e9" stroke-width="22.3"/>
</g>
<path d="M92.0,94.9 L93.0,95.6 L94.0,96.3 L95.0,97.0 L96.0,97.8 L97.0,98.5 L98.0,99.2 L99.0,99.9 L100.0,100.5 L101.0,100.8 L102.0,100.8 L103.0,100.3 L104.0,99.3 L105.0,97.6 L106.0,96.4 L107.0,95.8 L108.0,95.6 L109.0,95.7 L110.0,96.1 L111.0,96.8 L112.0,97.9 L113.0,99.0 L114.0,100.3 L115.0,101.5 L116.0,102.6 L117.0,103.8 L118.0,104.8 L119.0,105.8 L120.0,106.6 L121.0,107.5 L122.0,108.3 L123.0,109.1 L124.0,109.9 L125.0,110.6 L126.0,111.4 L127.0,112.1 L128.0,112.7 L129.0,113.4 L130.0,114.0 L131.0,114.6 L132.0,115.2 L133.0,115.7 L134.0,116.3 L135.0,116.8 L136.0,117.3 L137.0,117.7 L138.0,118.2 L139.0,118.5 L140.0,118.9 L141.0,119.3 L142.0,119.6 L143.0,119.9 L144.0,120.1 L145.0,120.3 L146.0,120.5 L147.0,120.7 L148.0,120.9 L149.0,121.0 L150.0,121.1 L151.0,121.2 L152.0,121.3 L153.0,121.4 L154.0,121.4 L155.0,121.4 L156.0,121.5 L157.0,121.4 L158.0,121.4 L159.0,121.4 L160.0,121.3 L161.0,121.3 L162.0,121.2 L163.0,121.1 L164.0,121.0 L165.0,120.9 L166.0,120.8 L167.0,120.6 L168.0,120.5 L169.0,120.4 L170.0,120.2 L171.0,120.1 L172.0,119.9 L173.0,119.7 L174.0,119.6 L175.0,119.4 L176.0,119.2 L177.0,119.1 L178.0,118.9 L179.0,118.7 L180.0,118.6 L181.0,118.4 L182.0,118.3 L183.0,118.1 L184.0,118.0 L185.0,117.8 L186.0,117.7 L187.0,117.6 L188.0,117.4 L189.0,117.3 L190.0,117.2 L191.0,117.1 L192.0,117.0 L193.0,117.0 L194.0,116.9 L195.0,116.9 L196.0,116.8 L197.0,116.8 L198.0,116.8 L199.0,116.8 L200.0,116.8 L201.0,116.8 L202.0,116.9 L203.0,116.9 L204.0,117.0 L205.0,117.1 L206.0,117.2 L207.0,117.3 L208.0,117.4 L209.0,117.6 L210.0,117.7 L211.0,117.9 L212.0,118.1 L213.0,118.2 L214.0,118.4 L215.0,118.6 L216.0,118.9 L217.0,119.1 L218.0,119.3 L219.0,119.6 L220.0,119.8 L221.0,120.1 L222.0,120.3 L223.0,120.6 L224.0,120.9 L225.0,121.2 L226.0,121.5 L227.0,121.8 L228.0,122.1 L229.0,122.5 L230.0,122.8 L231.0,123.1 L232.0,123.5 L233.0,123.8 L234.0,124.2 L235.0,124.6 L236.0,124.9 L237.0,125.3 L238.0,125.7 L239.0,126.1 L240.0,126.5 L241.0,126.9 L242.0,127.3 L243.0,127.7 L244.0,128.1 L245.0,128.5 L246.0,128.9 L247.0,129.3 L248.0,129.7 L249.0,130.1 L250.0,130.5 L251.0,130.9 L252.0,131.3 L253.0,131.6 L254.0,132.0 L255.0,132.4 L256.0,132.8 L257.0,133.1 L258.0,133.4 L259.0,133.8 L260.0,134.1 L261.0,134.4 L262.0,134.7 L263.0,135.0 L264.0,135.3 L265.0,135.5 L266.0,135.8 L267.0,136.0 L268.0,136.2 L269.0,136.4 L270.0,136.6 L271.0,136.8 L272.0,137.0 L273.0,137.2 L274.0,137.4 L275.0,137.6 L276.0,137.7 L277.0,137.9 L278.0,138.1 L279.0,138.2 L280.0,138.4 L281.0,138.5 L282.0,138.7 L283.0,138.8 L284.0,139.0 L285.0,139.1 L286.0,139.3 L287.0,139.4 L288.0,139.6 L289.0,139.7 L290.0,139.9 L291.0,140.0 L292.0,140.2 L293.0,140.3 L294.0,140.5 L295.0,140.7 L296.0,140.8 L297.0,141.0 L298.0,141.2 L299.0,141.4 L300.0,141.6 L301.0,141.8 L302.0,142.0 L303.0,142.2 L304.0,142.4 L305.0,142.7 L306.0,142.9 L307.0,143.1 L308.0,143.4 L309.0,143.6 L310.0,143.9 L311.0,144.1 L312.0,144.4 L313.0,144.7 L314.0,145.0 L315.0,145.3 L316.0,145.6 L317.0,145.9 L318.0,146.2 L319.0,146.5 L320.0,146.8 L321.0,147.2 L322.0,147.5 L323.0,147.9 L324.0,148.3 L325.0,148.7 L326.0,149.1 L327.0,149.5 L328.0,149.9 L329.0,150.3 L330.0,150.7 L331.0,151.1 L332.0,151.6 L333.0,152.0 L334.0,152.4 L335.0,152.9 L336.0,153.3 L337.0,153.8 L338.0,154.3 L339.0,154.7 L340.0,155.2 L341.0,155.6 L342.0,156.1 L343.0,156.5 L344.0,157.0 L345.0,157.4 L346.0,157.9 L347.0,158.4 L348.0,158.8 L349.0,159.3 L350.0,159.7 L351.0,160.2 L352.0,160.6 L353.0,161.1 L354.0,161.5 L355.0,162.0 L356.0,162.4 L357.0,162.8 L358.0,163.2 L359.0,163.7 L360.0,164.1 L361.0,164.5 L362.0,164.9 L363.0,165.3 L364.0,165.7 L365.0,166.1 L366.0,166.5 L367.0,166.8 L368.0,167.2 L369.0,167.6 L370.0,167.9 L371.0,168.3 L372.0,168.6 L373.0,169.0 L374.0,169.3 L375.0,169.7 L376.0,170.0 L377.0,170.3 L378.0,170.6 L379.0,171.0 L380.0,171.3 L381.0,171.6 L382.0,171.9 L383.0,172.2 L384.0,172.5 L385.0,172.8 L386.0,173.1 L387.0,173.4 L388.0,173.7 L389.0,174.0 L390.0,174.3 L391.0,174.6 L392.0,174.8 L393.0,175.1 L394.0,175.4 L395.0,175.7 L396.0,176.0 L397.0,176.3 L398.0,176.6 L399.0,176.9 L400.0,177.2 L401.0,177.5 L402.0,177.8 L403.0,178.1 L404.0,178.4 L405.0,178.7 L406.0,179.1 L407.0,179.4 L408.0,179.7 L409.0,180.0 L410.0,180.4 L411.0,180.7 L412.0,181.0 L413.0,181.4 L414.0,181.7 L415.0,182.0 L416.0,182.4 L417.0,182.7 L418.0,183.1 L419.0,183.4 L420.0,183.8 L421.0,184.1 L422.0,184.4 L423.0,184.8 L424.0,185.2 L425.0,185.5 L426.0,185.9 L427.0,186.2 L428.0,186.6 L429.0,187.0 L430.0,187.3 L431.0,187.7 L432.0,188.1 L433.0,188.5 L434.0,188.9 L435.0,189.2 L436.0,189.6 L437.0,190.0 L438.0,190.4 L439.0,190.8 L440.0,191.2 L441.0,191.6 L442.0,192.0 L443.0,192.4 L444.0,192.9 L445.0,193.3 L446.0,193.7 L447.0,194.1 L448.0,194.5 L449.0,194.9 L450.0,195.3 L451.0,195.7 L452.0,196.2 L453.0,196.6 L454.0,197.0 L455.0,197.4 L456.0,197.8 L457.0,198.2 L458.0,198.6 L459.0,199.0 L460.0,199.5 L461.0,199.9 L462.0,200.3 L463.0,200.7 L464.0,201.1 L465.0,201.5 L466.0,201.9 L467.0,202.3 L468.0,202.7 L469.0,203.1 L470.0,203.5 L471.0,203.9 L472.0,204.3 L473.0,204.7 L474.0,205.1 L475.0,205.5 L476.0,205.9 L477.0,206.3 L478.0,206.6 L479.0,207.0 L480.0,207.4 L481.0,207.8 L482.0,208.2 L483.0,208.6 L484.0,208.9 L485.0,209.3 L486.0,209.7 L487.0,210.1 L488.0,210.4 L489.0,210.8 L490.0,211.2 L491.0,211.6 L492.0,211.9 L493.0,212.3 L494.0,212.7 L495.0,213.0 L496.0,213.4 L497.0,213.7 L498.0,214.1 L499.0,214.4 L500.0,214.8 L501.0,215.2 L502.0,215.5 L503.0,215.9 L504.0,216.2 L505.0,216.6 L506.0,216.9 L507.0,217.2 L508.0,217.6 L509.0,217.9 L510.0,218.3 L511.0,218.6 L512.0,219.0 L513.0,219.3 L514.0,219.7 L515.0,220.0 L516.0,220.4 L517.0,220.7 L518.0,221.1 L519.0,221.5 L520.0,221.8 L521.0,222.2 L522.0,222.6 L523.0,222.9 L524.0,223.3 L525.0,223.7 L526.0,224.1 L527.0,224.5 L528.0,224.8 L529.0,225.2 L530.0,225.6 L531.0,226.0 L532.0,226.4 L533.0,226.8 L534.0,227.2 L535.0,227.6 L536.0,228.0 L537.0,228.4 L538.0,228.8 L539.0,229.2 L540.0,229.7 L541.0,230.1 L542.0,230.5 L543.0,230.9 L544.0,231.3 L545.0,231.8 L546.0,232.2 L547.0,232.6 L548.0,233.0 L549.0,233.5 L550.0,233.9 L551.0,234.3 L552.0,234.7 L553.0,235.2 L554.0,235.6 L555.0,236.0 L556.0,236.5 L557.0,236.9 L558.0,237.3 L559.0,237.8 L560.0,238.2 L561.0,238.7 L562.0,239.1 L563.0,239.5 L564.0,240.0 L565.0,240.4 L566.0,240.9 L567.0,241.3 L568.0,241.8 L569.0,242.2 L570.0,242.7 L571.0,243.1 L572.0,243.6 L573.0,244.0 L574.0,244.5 L575.0,244.9 L576.0,245.4 L577.0,245.8 L578.0,246.3 L579.0,246.7 L580.0,247.2 L581.0,247.6 L582.0,248.1 L583.0,248.5 L584.0,249.0 L585.0,249.4 L586.0,249.9 L587.0,250.3 L588.0,250.8 L589.0,251.2 L590.0,251.7 L591.0,252.1 L592.0,252.6 L593.0,253.0 L594.0,253.5 L595.0,253.9 L596.0,254.4 L597.0,254.8 L598.0,255.3 L599.0,255.7 L600.0,256.2 L601.0,256.6 L602.0,257.1 L603.0,257.5 L604.0,258.0 L605.0,258.4 L606.0,258.9 L607.0,259.4 L608.0,259.8 L609.0,260.3 L610.0,260.7 L611.0,261.2 L612.0,261.7 L613.0,262.1 L614.0,262.6 L615.0,263.0 L616.0,263.5 L617.0,264.0 L618.0,264.4 L619.0,264.9 L620.0,265.4 L621.0,265.8 L622.0,266.3 L623.0,266.8 L624.0,267.3 L625.0,267.7 L626.0,268.2 L627.0,268.7 L628.0,269.2 L629.0,269.6 L630.0,270.1 L631.0,270.6 L632.0,271.1 L633.0,271.5 L634.0,272.0 L635.0,272.5 L636.0,273.0 L637.0,273.5 L638.0,274.0 L639.0,274.5 L640.0,274.9 L641.0,275.4 L642.0,275.9 L643.0,276.4 L644.0,276.9 L645.0,277.4 L646.0,277.9 L647.0,278.4 L648.0,278.9 L649.0,279.4 L650.0,279.9 L651.0,280.5 L652.0,281.0 L653.0,281.5 L654.0,282.0 L655.0,282.5 L656.0,283.0 L657.0,283.6 L658.0,284.1 L659.0,284.6 L660.0,285.1 L661.0,285.7 L662.0,286.2 L663.0,286.7 L664.0,287.2 L665.0,287.8 L666.0,288.3 L667.0,288.8 L668.0,289.3 L669.0,289.8 L670.0,290.4 L671.0,290.9 L672.0,291.4 L673.0,291.9 L674.0,292.4 L675.0,292.9 L676.0,293.4 L677.0,293.9 L678.0,294.4 L679.0,294.9 L680.0,295.4 L681.0,295.9 L682.0,296.4 L683.0,296.9 L684.0,297.4 L685.0,297.9 L686.0,298.4 L687.0,298.9 L688.0,299.4 L689.0,299.9 L690.0,300.4 L691.0,300.9 L692.0,301.4 L693.0,301.9 L694.0,302.4 L695.0,302.9 L696.0,303.4 L697.0,303.9 L698.0,304.4 L699.0,304.9 L700.0,305.4 L701.0,305.9 L702.0,306.4 L703.0,306.9 L704.0,307.4 L705.0,307.9 L706.0,308.4 L707.0,308.9 L708.0,309.4 L709.0,309.9 L710.0,310.4 L711.0,310.9 L712.0,311.4 L713.0,311.9 L714.0,312.4 L715.0,312.9 L716.0,313.4 L717.0,313.9 L718.0,314.4 L719.0,314.9 L720.0,315.4 L721.0,315.9 L722.0,316.4 L723.0,316.9 L724.0,317.4 L725.0,317.9 L726.0,318.4 L727.0,318.9 L728.0,319.4 L729.0,319.9 L730.0,320.4 L731.0,320.9 L732.0,321.5 L733.0,322.0 L734.0,322.5 L735.0,323.0 L736.0,323.5 L737.0,324.0 L738.0,324.6 L739.0,325.1 L740.0,325.6 L741.0,326.1 L742.0,326.6 L743.0,327.2 L744.0,327.7 L745.0,328.2 L746.0,328.7 L747.0,329.3 L748.0,329.8 L749.0,330.3 L750.0,330.9 L751.0,331.4 L752.0,331.9 L753.0,332.4 L754.0,333.0 L755.0,333.5 L756.0,334.0 L757.0,334.5 L758.0,335.1 L759.0,335.6 L760.0,336.1 L761.0,336.6 L762.0,337.1 L763.0,337.6 L764.0,338.2 L765.0,338.7 L766.0,339.2 L767.0,339.7 L768.0,340.2 L769.0,340.7 L770.0,341.2 L771.0,341.7 L772.0,342.2 L773.0,342.7 L774.0,343.2 L775.0,343.7 L776.0,344.2" fill="none" stroke="#9400d3" stroke-width="3.75" stroke-linejoin="round"/>
</g>
<rect x="92.0" y="10.0" width="684.0" height="546.7" fill="none" stroke="#000" stroke-width="1.9"/>
<g text-anchor="end">
<text x="206.9" y="434.2" class="k">ZS-QC</text>
<text x="206.9" y="468.2" class="k">ZS-PN-J</text>
<text x="206.9" y="502.2" class="k">ZS-MP</text>
<text x="206.9" y="536.2" class="k">ZS-Iter5</text>
</g>
<g fill="none">
<path d="M219.3,424.4 H285.9" stroke="#000" stroke-width="5.0" stroke-dasharray="1.55 9.01"/>
<path d="M219.5,458.4 H284.7" stroke="#009e73" stroke-width="5.0" stroke-dasharray="21.7 9.5 2.5 9.5 2.5 9.4"/>
<path d="M219.5,492.5 H284.7" stroke="#56b4e9" stroke-width="4.6" stroke-dasharray="19.4 9.5 4.9 9.4"/>
<path d="M219.5,526.5 H284.7" stroke="#9400d3" stroke-width="3.5"/>
</g>
</svg></body></html>
